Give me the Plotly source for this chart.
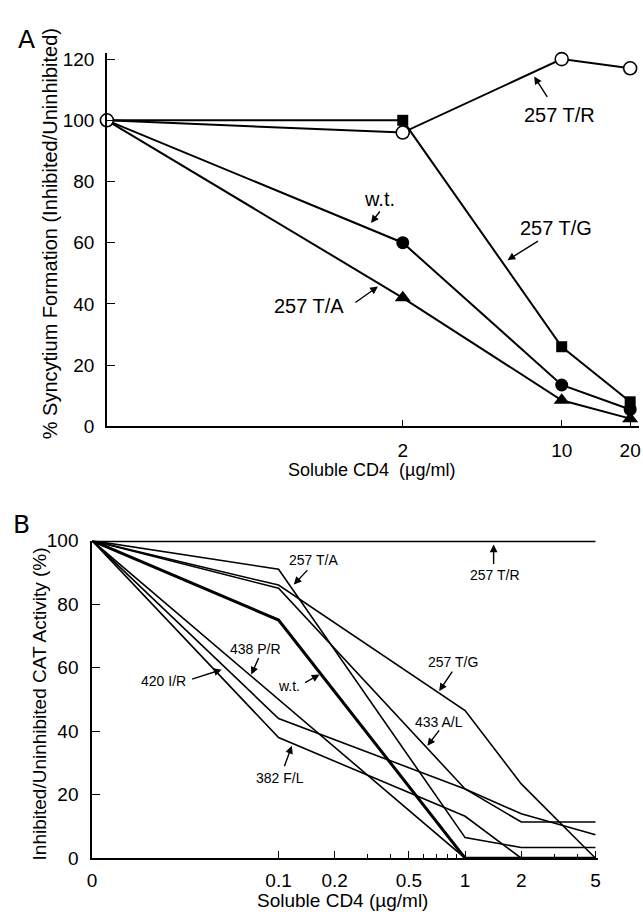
import plotly.graph_objects as go

# ---------------- data ----------------
# Panel A: syncytium formation vs soluble CD4 (ug/ml); dose 0 drawn at the axis origin
doses_A = [0, 2, 10, 20]
synA_TR = [100, 96, 120, 117]     # 257 T/R (open circles)
synA_TG = [100, 100, 26, 8]       # 257 T/G (filled squares)
synA_WT = [100, 60, 13.5, 5.5]    # w.t. (filled circles)
synA_TA = [100, 42, 8.5, 2.5]     # 257 T/A (filled triangles)
ticks_A_x = [2, 10, 20]
ticks_A_y = [0, 20, 40, 60, 80, 100, 120]

# Panel B: CAT activity vs soluble CD4 (ug/ml); dose 0 drawn at the axis origin
doses_B = [0, 0.1, 1, 2, 5]
catB_TR = [100, 100, 100, 100, 100]
catB_TA = [100, 91, 6.5, 3.4, 3.4]
catB_TG = [100, 86, 46.5, 23.4, 0]
catB_AL = [100, 85, 21.8, 11.4, 11.4]
catB_WT = [100, 75, 0, 0, 0]
catB_PR = [100, 50, 0, 0, 0]
catB_IR = [100, 44, 21.8, 14, 7.4]
catB_FL = [100, 38, 13.2, 0, 0]
ticks_B_x = [0, 0.1, 0.2, 0.5, 1, 2, 5]
ticks_B_x_text = ["0", "0.1", "0.2", "0.5", "1", "2", "5"]
minor_B_x = [0.3, 0.4, 0.6, 0.7, 0.8, 0.9, 3, 4]
ticks_B_y = [0, 20, 40, 60, 80, 100]

ZERO_A = 0.1    # log-axis position used for dose 0 in panel A
ZERO_B = 0.01   # log-axis position used for dose 0 in panel B

# ---------------- helpers ----------------
W, H = 643, 922
FONT = "Liberation Sans, Arial, Helvetica, sans-serif"


def px(x):
    return x / W


def py(y):
    return 1 - y / H


def xpos(doses, zero):
    return [zero if d == 0 else d for d in doses]


fig = go.Figure()

# ---------------- panel A traces ----------------
xa = xpos(doses_A, ZERO_A)
hide_first = [0, 1, 1, 1]
fig.add_trace(go.Scatter(x=xa, y=synA_TG, mode="lines+markers", xaxis="x", yaxis="y",
                         line=dict(color="black", width=2),
                         marker=dict(symbol="square", size=11, color="black", opacity=hide_first),
                         cliponaxis=False, showlegend=False))
fig.add_trace(go.Scatter(x=xa, y=synA_WT, mode="lines+markers", xaxis="x", yaxis="y",
                         line=dict(color="black", width=2),
                         marker=dict(symbol="circle", size=13, color="black", opacity=hide_first),
                         cliponaxis=False, showlegend=False))
fig.add_trace(go.Scatter(x=xa, y=synA_TA, mode="lines+markers", xaxis="x", yaxis="y",
                         line=dict(color="black", width=2),
                         marker=dict(symbol="triangle-up", size=14, color="black", opacity=hide_first),
                         cliponaxis=False, showlegend=False))
fig.add_trace(go.Scatter(x=xa, y=synA_TR, mode="lines+markers", xaxis="x", yaxis="y",
                         line=dict(color="black", width=2),
                         marker=dict(symbol="circle", size=13, color="white",
                                     line=dict(color="black", width=1.6)),
                         cliponaxis=False, showlegend=False))

# ---------------- panel B traces ----------------
xb = xpos(doses_B, ZERO_B)
for ys, w in [(catB_TR, 3), (catB_TA, 1.6), (catB_TG, 1.6), (catB_AL, 1.6),
              (catB_WT, 3), (catB_PR, 1.6), (catB_IR, 1.6), (catB_FL, 1.6)]:
    fig.add_trace(go.Scatter(x=xb, y=ys, mode="lines", xaxis="x2", yaxis="y2",
                             line=dict(color="black", width=w),
                             cliponaxis=False, showlegend=False))

# ---------------- axes ----------------
axis_common = dict(showline=True, linecolor="black", linewidth=1.5, showgrid=False,
                   zeroline=False, ticks="inside", tickcolor="black", tickwidth=1.2,
                   tickfont=dict(family=FONT, size=19, color="black"))

fig.update_layout(
    width=W, height=H,
    margin=dict(l=0, r=0, t=0, b=0),
    paper_bgcolor="white", plot_bgcolor="white",
    showlegend=False,
    xaxis=dict(**axis_common, type="log", range=[-1, 1.34],
               domain=[px(103), px(641)], anchor="y",
               tickvals=ticks_A_x, ticktext=[str(v) for v in ticks_A_x],
               ticklen=7, ticklabelstandoff=6),
    yaxis=dict(**axis_common, range=[0, 122],
               domain=[py(426), py(44)], anchor="x",
               tickvals=ticks_A_y, ticklen=8, ticklabelstandoff=7),
    xaxis2=dict(**axis_common, type="log", range=[-2, 0.715],
                domain=[px(88), px(600)], anchor="y2",
                tickvals=xpos(ticks_B_x, ZERO_B), ticktext=ticks_B_x_text,
                ticklen=7, ticklabelstandoff=4,
                minor=dict(tickvals=minor_B_x, ticks="inside", ticklen=4,
                           tickcolor="black", tickwidth=1)),
    yaxis2=dict(**axis_common, range=[0, 100],
                domain=[py(868), py(543)], anchor="x2",
                tickvals=ticks_B_y, ticklen=8, ticklabelstandoff=8),
)

# ---------------- texts ----------------
anns = []


def text(t, x, y, size, angle=0, family=FONT):
    anns.append(dict(text=t, x=px(x), y=py(y), xref="paper", yref="paper",
                     xanchor="center", yanchor="middle", showarrow=False,
                     textangle=angle, font=dict(family=family, size=size, color="black")))


def arrow(tail, head):
    anns.append(dict(text="", x=px(head[0]), y=py(head[1]), xref="paper", yref="paper",
                     ax=tail[0] - head[0], ay=tail[1] - head[1], showarrow=True,
                     arrowhead=2, arrowsize=1.1, arrowwidth=1.4, arrowcolor="black",
                     standoff=0, startstandoff=0))


# panel letters
text("A", 22, 30, 25, family="DejaVu Sans, Noto Sans, sans-serif")
text("B", 17, 527, 25, family="DejaVu Sans, Noto Sans, sans-serif")

# axis titles
text("% Syncytium Formation (Inhibited/Uninhibited)", 45, 229, 20, angle=-90)
text("Soluble CD4\u00a0\u00a0(\u00b5g/ml)", 371, 471, 18)
text("Inhibited/Uninhibited CAT Activity (%)", 35, 710, 19, angle=-90)
text("Soluble CD4 (\u00b5g/ml)", 341, 911, 19)

# panel A labels
text("257 T/R", 561, 107, 20)
arrow((549, 90), (535, 68))
text("257 T/G", 557, 223, 20)
arrow((540, 236), (508, 256))
text("w.t.", 379, 193, 20)
arrow((380, 205), (370, 218))
text("257 T/A", 307, 303, 20)
arrow((353, 300), (377, 283))

# panel B labels
text("257 T/A", 312, 563, 14)
arrow((307, 572), (292, 588))
text("438 P/R", 253, 654, 14)
arrow((257, 662), (249, 680))
text("420 I/R", 160, 687, 14)
arrow((188, 685), (219, 675))
text("w.t.", 287, 692, 14)
arrow((302, 689), (318, 680))
text("382 F/L", 278, 786, 14)
arrow((282, 775), (290, 753))
text("257 T/R", 495, 578, 14)
arrow((494, 568), (494, 547))
text("257 T/G", 453, 667, 14)
arrow((453, 676), (439, 697))
text("433 A/L", 439, 729, 14)
arrow((440, 736), (427, 753))

fig.update_layout(annotations=anns)

fig.write_html("out.html", config={"displayModeBar": False},
               post_script="document.body.style.margin='0';")
